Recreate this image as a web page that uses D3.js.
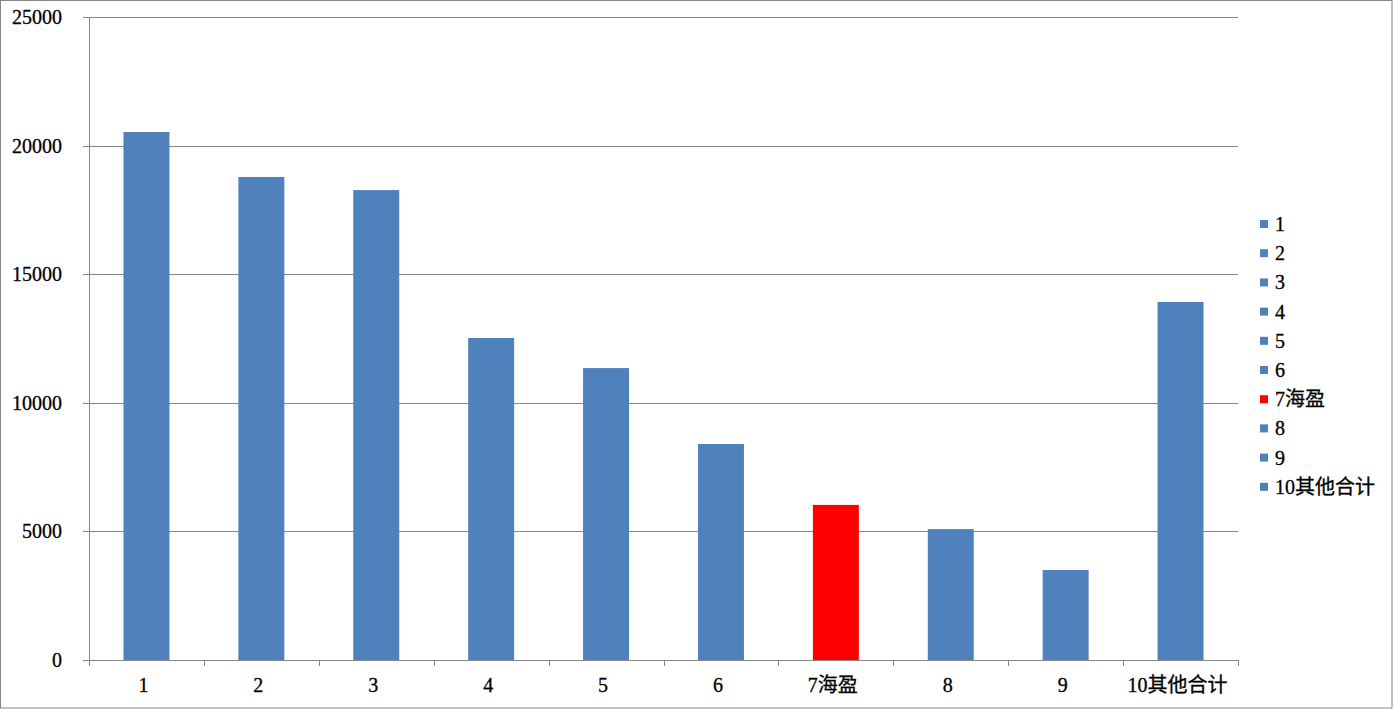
<!DOCTYPE html>
<html><head><meta charset="utf-8">
<script src="https://cdn.jsdelivr.net/npm/d3@7"></script>
<style>
html,body{margin:0;padding:0;background:#fff;}
svg text{font-family:"Liberation Serif","DejaVu Serif","Noto Sans CJK SC",serif;font-size:20px;fill:#000;stroke:#000;stroke-width:0.3px;}
</style>
</head><body>
<svg id="c" width="1395" height="709"></svg>
<script>
const categories = ["1","2","3","4","5","6","7海盈","8","9","10其他合计"];
const values = [20530, 18780, 18270, 12520, 11350, 8400, 6030, 5090, 3500, 13920];
const barColors = ["#4f81bd","#4f81bd","#4f81bd","#4f81bd","#4f81bd","#4f81bd","#ff0000","#4f81bd","#4f81bd","#4f81bd"];
const yTicks = [0, 5000, 10000, 15000, 20000, 25000];

(function(){
const svg = d3.select("#c");
const gray = "#868686";
const pL = 89, pR = 1238, pT = 17, pB = 660;

svg.append("rect").attr("x",0.5).attr("y",0.5).attr("width",1391.5).attr("height",707.5)
  .attr("fill","#fff").attr("stroke",gray).attr("stroke-width",1);

const x = d3.scaleBand().domain(categories).range([pL,pR]).paddingInner(0.6).paddingOuter(0.3);
const xb = d3.scaleBand().domain(categories).range([pL,pR]);
const y = d3.scaleLinear().domain([0,25000]).range([pB,pT]);

svg.append("g").selectAll("line").data(yTicks).join("line")
  .attr("x1",pL-6).attr("x2",pR)
  .attr("y1",d=>Math.round(y(d))+0.5).attr("y2",d=>Math.round(y(d))+0.5)
  .attr("stroke",gray).attr("stroke-width",1);

svg.append("g").selectAll("rect").data(values).join("rect")
  .attr("x",(d,i)=>x(categories[i]))
  .attr("width",x.bandwidth())
  .attr("y",d=>y(d))
  .attr("height",d=>pB-y(d))
  .attr("fill",(d,i)=>barColors[i]);

svg.append("line").attr("x1",pL+0.5).attr("x2",pL+0.5).attr("y1",pT).attr("y2",pB+6)
  .attr("stroke",gray);
const bounds = categories.map(c=>xb(c)).concat([pR]);
svg.append("g").selectAll("line").data(bounds).join("line")
  .attr("x1",d=>Math.round(d)+0.5).attr("x2",d=>Math.round(d)+0.5)
  .attr("y1",pB).attr("y2",pB+6).attr("stroke",gray);

svg.append("g").selectAll("text").data(yTicks).join("text")
  .attr("x",62).attr("y",d=>y(d)).attr("dy","0.35em").attr("text-anchor","end")
  .text(d=>d);

svg.append("g").selectAll("text").data(categories).join("text")
  .attr("x",d=>xb(d)+xb.bandwidth()/2-3).attr("y",685).attr("dy","0.35em")
  .attr("text-anchor","middle").text(d=>d);

const lg = svg.append("g");
categories.forEach((c,i)=>{
  const yy = 224 + i*29.2;
  lg.append("rect").attr("x",1260).attr("y",yy-4).attr("width",8).attr("height",8).attr("fill",barColors[i]);
  lg.append("text").attr("x",1275).attr("y",yy).attr("dy","0.35em").text(c);
});
})();
</script>
</body></html>
